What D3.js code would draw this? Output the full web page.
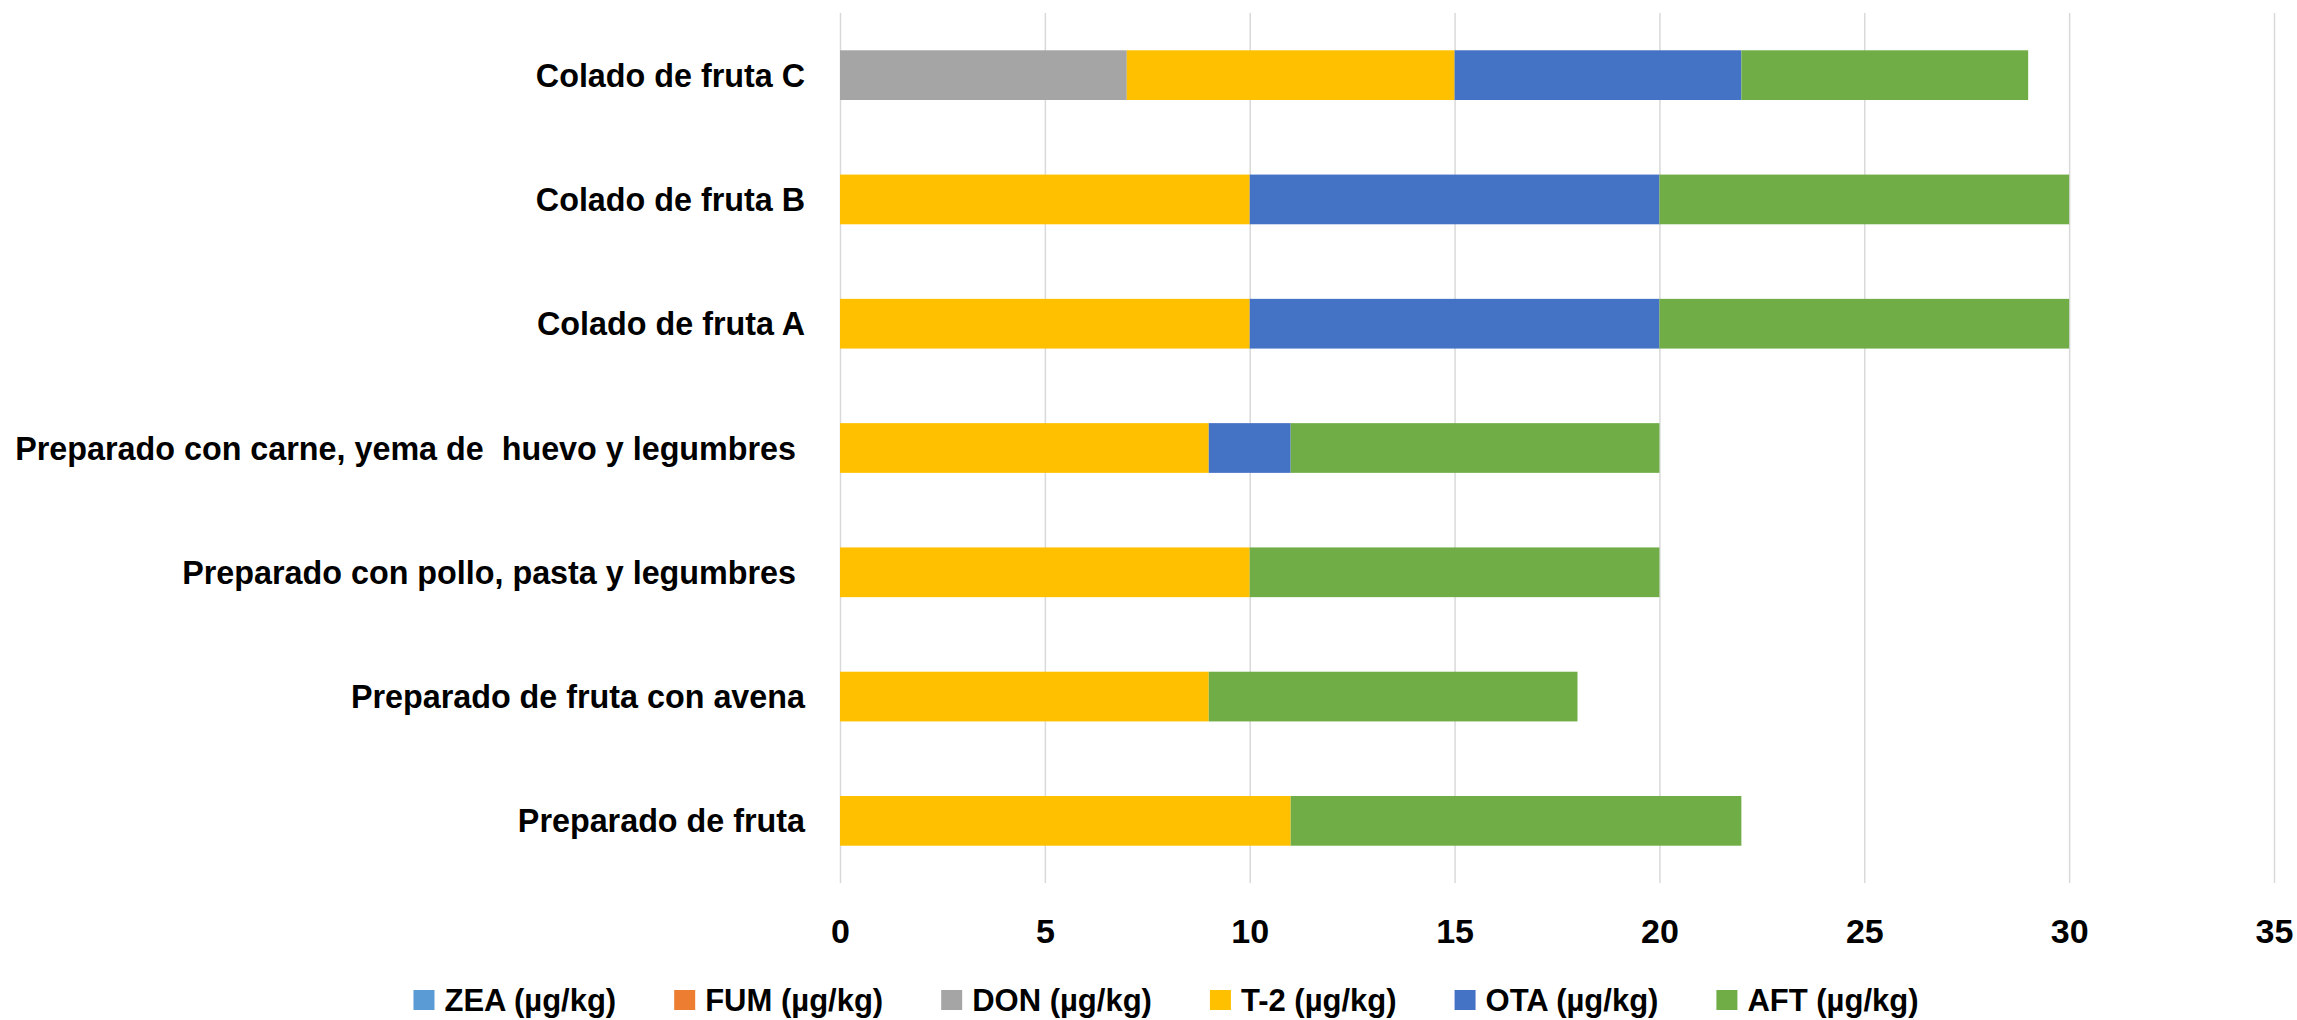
<!DOCTYPE html>
<html>
<head>
<meta charset="utf-8">
<script src="https://cdn.jsdelivr.net/npm/d3@7"></script>
<style>
    body { margin: 0; background: #fff; }
    text { font-family: "Liberation Sans", Arial, sans-serif; font-weight: bold; fill: #000; white-space: pre; }
    .grid line { stroke: #d9d9d9; stroke-width: 1.5; }
    .grid path { display: none; }
</style>
</head>
<body>
<svg width="2297" height="1020"></svg>
<script>
const width = 2297
const height = 1020
const margins = {
    top: 13,
    bottom: 137,
    left: 840,
    right: 23
}

// Data (top to bottom as in the chart)
const categories = [
    "Colado de fruta C",
    "Colado de fruta B",
    "Colado de fruta A",
    "Preparado con carne, yema de  huevo y legumbres ",
    "Preparado con pollo, pasta y legumbres ",
    "Preparado de fruta con avena",
    "Preparado de fruta"
]
const seriesNames = ["ZEA (µg/kg)", "FUM (µg/kg)", "DON (µg/kg)", "T-2 (µg/kg)", "OTA (µg/kg)", "AFT (µg/kg)"]
const zea = [0, 0, 0, 0, 0, 0, 0]
const fum = [0, 0, 0, 0, 0, 0, 0]
const don = [7, 0, 0, 0, 0, 0, 0]
const t2  = [8, 10, 10, 9, 10, 9, 11]
const ota = [7, 10, 10, 2, 0, 0, 0]
const aft = [7, 10, 10, 9, 10, 9, 11]
const xTicks = [0, 5, 10, 15, 20, 25, 30, 35]
const colors = ["#5b9bd5", "#ed7d31", "#a5a5a5", "#ffc000", "#4472c4", "#70ad47"]

// Build rows for the stack
const values = [zea, fum, don, t2, ota, aft]
const data = categories.map((c, i) => {
    let row = {category: c}
    seriesNames.forEach((s, j) => { row[s] = values[j][i] })
    return row
})

let svg = d3.select('svg')

// Scales
let xScale = d3.scaleLinear()
    .domain([0, 35])
    .range([margins.left, width - margins.right])
let yScale = d3.scaleBand()
    .domain(categories)
    .range([margins.top, height - margins.bottom])
    .paddingInner(0.6)
    .paddingOuter(0.3)

// Vertical grid lines
svg.append('g')
    .attr("class", "grid")
    .attr("transform", `translate(0,${margins.top})`)
    .call(d3.axisBottom(xScale)
        .tickValues(xTicks)
        .tickSize(height - margins.bottom - margins.top)
        .tickFormat(""))

// Stacked bars
const stacked = d3.stack().keys(seriesNames)(data)
svg.append('g')
    .selectAll('g')
    .data(stacked)
    .enter()
    .append('g')
    .attr("fill", (d, i) => colors[i])
    .selectAll('rect')
    .data(d => d)
    .enter()
    .append('rect')
    .attr("x", d => xScale(d[0]))
    .attr("y", d => yScale(d.data.category))
    .attr("width", d => xScale(d[1]) - xScale(d[0]))
    .attr("height", yScale.bandwidth())

// x axis labels
const xAxis = svg.append('g')
    .attr("transform", `translate(0,${height - margins.bottom})`)
    .call(d3.axisBottom(xScale).tickValues(xTicks).tickSize(0).tickPadding(0))
xAxis.select(".domain").remove()
xAxis.selectAll("text")
    .attr("y", 48)
    .attr("dy", "0.35em")
    .style("font-size", "34px")
    .style("font-family", null)

// y axis labels
const yAxis = svg.append('g')
    .attr("transform", `translate(${margins.left},0)`)
    .call(d3.axisLeft(yScale).tickSize(0).tickPadding(35))
yAxis.select(".domain").remove()
yAxis.selectAll("text")
    .attr("dy", "0.36em")
    .style("font-size", "32.3px")
    .style("font-family", null)

// Legend
const legend = svg.append('g')
    .attr("transform", `translate(0,1000)`)
let items = legend.selectAll('g')
    .data(seriesNames)
    .enter()
    .append('g')
items.append('rect')
    .attr("x", 0)
    .attr("y", -10)
    .attr("width", 21)
    .attr("height", 20)
    .attr("fill", (d, i) => colors[i])
items.append('text')
    .attr("x", 31)
    .attr("dy", "0.35em")
    .style("font-size", "31px")
    .text(d => d)

// place legend items one after another, centred
let pos = 0
items.each(function () {
    const w = d3.select(this).select('text').node().getComputedTextLength()
    d3.select(this).attr("transform", `translate(${pos},0)`)
    pos += 31 + w + 58
})
const legendWidth = pos - 58
legend.attr("transform", `translate(${1166 - legendWidth / 2},1000)`)
</script>
</body>
</html>
